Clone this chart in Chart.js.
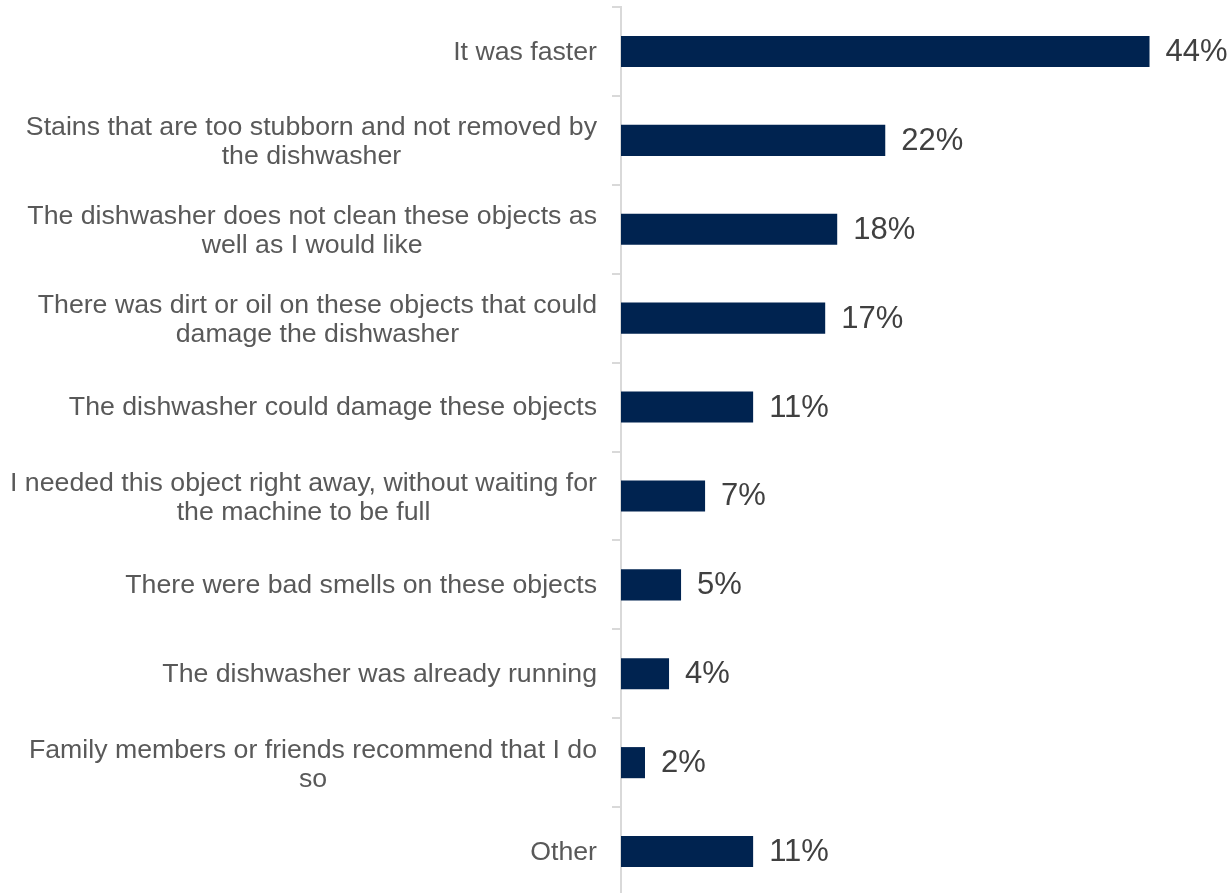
<!DOCTYPE html>
<html>
<head>
<meta charset="utf-8">
<script src="https://cdn.jsdelivr.net/npm/chart.js@4"></script>
<style>
  body { margin: 0; background: #fff; }
  #wrap { width: 1230px; height: 893px; overflow: hidden; }
  #inner { width: 1230px; height: 896px; position: relative; }
</style>
</head>
<body>
<div id="wrap"><div id="inner"><canvas id="reasonsChart"></canvas></div></div>
<script>
// categories (line breaks as in the original)
var reasons = [
    'It was faster',
    ['Stains that are too stubborn and not removed by', 'the dishwasher'],
    ['The dishwasher does not clean these objects as', 'well as I would like'],
    ['There was dirt or oil on these objects that could', 'damage the dishwasher'],
    'The dishwasher could damage these objects',
    ['I needed this object right away, without waiting for', 'the machine to be full'],
    'There were bad smells on these objects',
    'The dishwasher was already running',
    ['Family members or friends recommend that I do', 'so'],
    'Other'
];
var shares = [44, 22, 18, 17, 11, 7, 5, 4, 2, 11];

var FONT = '"Liberation Sans", Arial, sans-serif';

// category labels: block right-aligned, lines centred within the block
var categoryLabels = {
    id: 'categoryLabels',
    afterDraw: function (chart) {
        var ctx = chart.ctx;
        var yScale = chart.scales.y;
        var right = yScale.right - 9 - 15;
        var lineH = 29;
        ctx.save();
        ctx.font = '26.7px ' + FONT;
        ctx.fillStyle = '#595959';
        ctx.textAlign = 'center';
        ctx.textBaseline = 'middle';
        reasons.forEach(function (label, i) {
            var lines = Array.isArray(label) ? label : [label];
            var w = 0;
            lines.forEach(function (l) { w = Math.max(w, ctx.measureText(l).width); });
            var cx = right - w / 2;
            var cy = yScale.getPixelForTick(i) + 1;
            var y0 = cy - (lines.length - 1) * lineH / 2 + (lines.length - 1);
            lines.forEach(function (l, j) {
                ctx.fillText(l, cx, y0 + j * lineH);
            });
        });
        ctx.restore();
    }
};

// draw the "44%" style labels after each bar
var valueLabels = {
    id: 'valueLabels',
    afterDatasetsDraw: function (chart) {
        var ctx = chart.ctx;
        var meta = chart.getDatasetMeta(0);
        ctx.save();
        ctx.font = '31px ' + FONT;
        ctx.fillStyle = '#404040';
        ctx.textAlign = 'left';
        ctx.textBaseline = 'middle';
        meta.data.forEach(function (bar, i) {
            ctx.fillText(shares[i] + '%', bar.x + 16, bar.y + 1);
        });
        ctx.restore();
    }
};

document.addEventListener('DOMContentLoaded', function () {
    var ctx = document.getElementById('reasonsChart').getContext('2d');
    var reasonsChart = new Chart(ctx, {
        type: 'bar',
        data: {
            labels: reasons,
            datasets: [{
                data: shares,
                backgroundColor: '#002350',
                borderWidth: 0,
                barPercentage: 0.35,
                categoryPercentage: 1
            }]
        },
        options: {
            indexAxis: 'y',
            responsive: true,
            maintainAspectRatio: false,
            animation: false,
            layout: { padding: { top: 7, right: 0, bottom: 0, left: 0 } },
            plugins: {
                legend: { display: false },
                tooltip: { enabled: false }
            },
            scales: {
                x: {
                    display: false,
                    min: 0,
                    max: 50.7
                },
                y: {
                    afterFit: function (scale) {
                        scale.width = 621;
                        scale.paddingTop = 0;
                        scale.paddingBottom = 0;
                    },
                    border: { display: true, color: '#d9d9d9', width: 2 },
                    grid: {
                        drawOnChartArea: false,
                        drawTicks: true,
                        tickLength: 9,
                        color: '#d9d9d9',
                        lineWidth: 2,
                        offset: true
                    },
                    ticks: { display: false }
                }
            }
        },
        plugins: [categoryLabels, valueLabels]
    });
});
</script>
</body>
</html>
